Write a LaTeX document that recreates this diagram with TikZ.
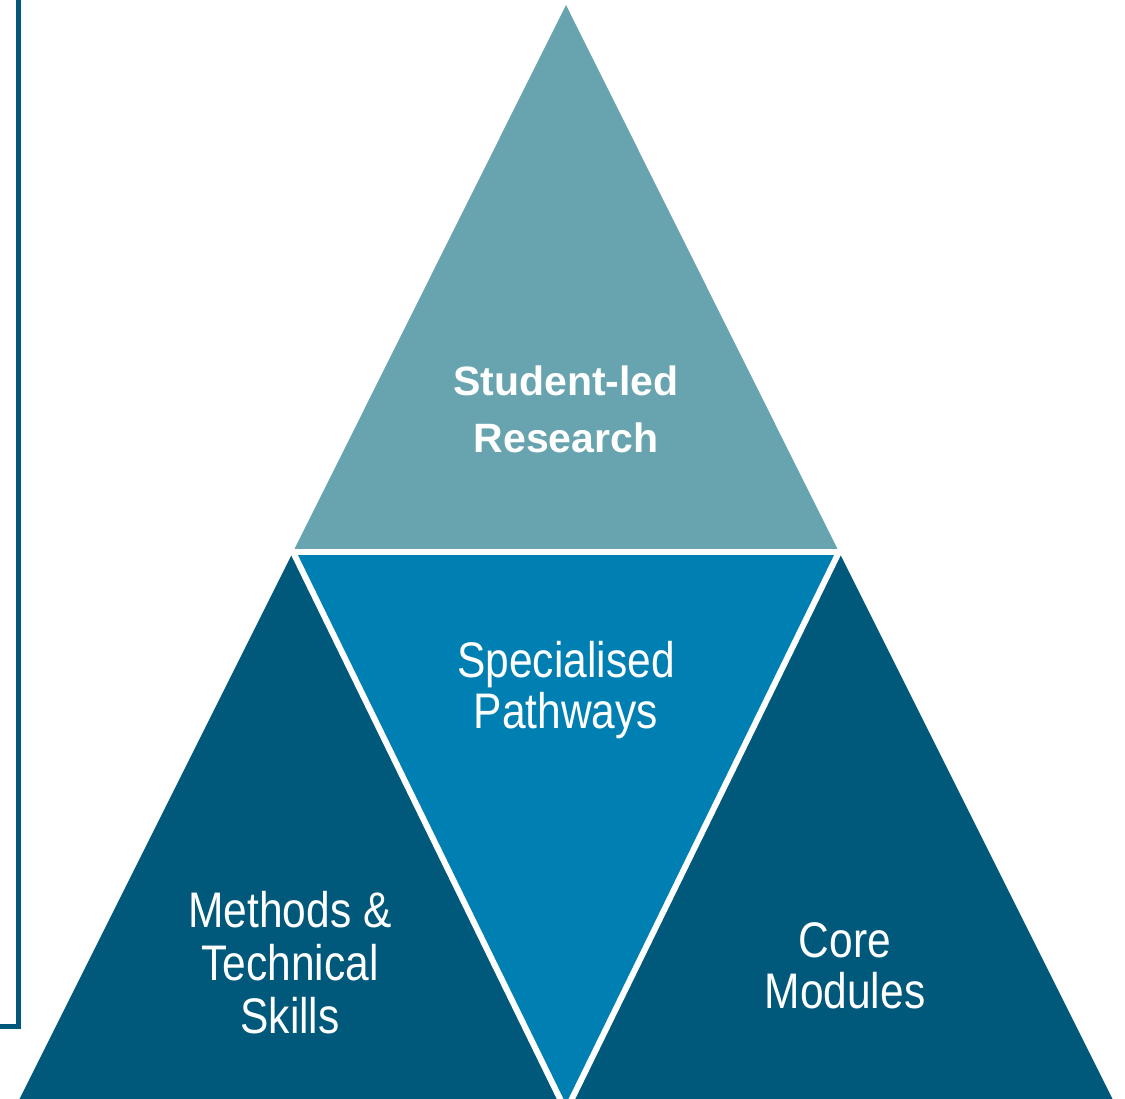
\documentclass[tikz,border=0pt]{standalone}
\usepackage{fontspec}
\setmainfont{Liberation Sans}
\newfontfamily\narrowfont{Liberation Sans}[FakeStretch=0.85]
\definecolor{topteal}{RGB}{104,164,176}
\definecolor{midblue}{RGB}{0,128,178}
\definecolor{darkteal}{RGB}{0,88,122}
\begin{document}
\begin{tikzpicture}[x=1pt,y=-1pt,
  lbl/.style={text=white,align=center,inner sep=0pt,anchor=base},
  gap/.style={draw=white,line width=6pt}]
\useasboundingbox (0,0) rectangle (1125,1099);
% partial frame at left
\draw[darkteal,line width=5pt] (-40,-40) rectangle (18.5,1026);
% vertices
\coordinate (A) at (566,5);
\coordinate (M1) at (293,552);
\coordinate (M2) at (839,552);
\coordinate (BLx) at (13.5,1111);
\coordinate (BRx) at (1118.5,1111);
\coordinate (Bx) at (566,1111);
% triangles
\fill[topteal] (A) -- (M2) -- (M1) -- cycle;
\fill[midblue] (M1) -- (M2) -- (Bx) -- cycle;
\fill[darkteal] (M1) -- (Bx) -- (BLx) -- cycle;
\fill[darkteal] (M2) -- (BRx) -- (Bx) -- cycle;
% white gaps
\draw[gap] (M1) -- (M2);
\draw[gap] (M1) -- (Bx);
\draw[gap] (M2) -- (Bx);
% labels (anchor = baseline of the last line)
\node[lbl,font=\fontsize{41}{57}\selectfont\bfseries] (research) at (566,452) {Student-led\\Research};
\node[lbl,font=\narrowfont\fontsize{50}{51}\selectfont] (pathways) at (566,728) {Specialised\\Pathways};
\node[lbl,font=\narrowfont\fontsize{50}{53}\selectfont] (methods) at (290,1033) {Methods \&\\Technical\\Skills};
\node[lbl,font=\narrowfont\fontsize{50}{51}\selectfont] (core) at (845,1008) {Core\\Modules};
\end{tikzpicture}
\end{document}
